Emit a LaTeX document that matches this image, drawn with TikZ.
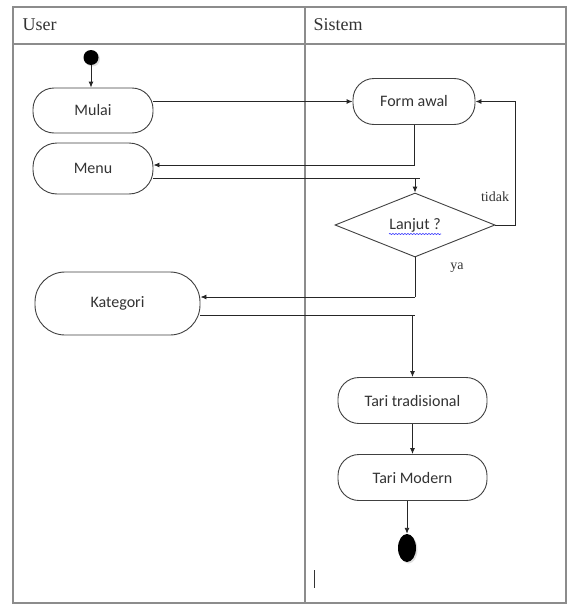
\documentclass[tikz,border=0pt]{standalone}
\usepackage{fontspec}
\setmainfont{Liberation Serif}
\newfontfamily\calibri{Carlito}
\usetikzlibrary{calc}
\usetikzlibrary{shapes.geometric,arrows.meta,shadows,decorations.pathmorphing}

\tikzset{
  activity/.style={draw=black!75, line width=0.9pt, rounded corners=21pt, fill=white,
    text=black!80, font=\calibri\fontsize{16}{19}\selectfont, inner sep=2pt},
  lane/.style={draw=black!45, line width=1.4pt},
  flow/.style={draw=black!85, line width=0.9pt},
  note/.style={text=black!80, font=\fontsize{14}{16}\selectfont, inner sep=1pt},
}

\begin{document}
\begin{tikzpicture}[x=1pt, y=-1pt, >={Latex[length=6pt,width=5pt]}]
\useasboundingbox (0,0) rectangle (568,605);

% jalur (swimlane)
\draw [lane] (13,7) rectangle (566,603);
\draw [lane] (13,44) -- (566,44);
\draw [lane] (305,7) -- (305,603);
\node [anchor=west, text=black!80, font=\fontsize{18}{20}\selectfont] (user) at (19,25) {User};
\node [anchor=west, text=black!80, font=\fontsize{18}{20}\selectfont] (sistem) at (310,25) {Sistem};

\node [circle, fill=black, minimum size=15pt, inner sep=0pt,
  drop shadow={shadow xshift=1.5pt, shadow yshift=-1.5pt, fill=black!25}] (start) at (91,57.5) {};

\foreach \n/\x/\y/\w/\h/\rad/\txt in {mulai/93/110.5/120/45/21/Mulai,
    menu/93/168.5/120/51/24/Menu, kategori/117.5/303.5/165/63/30/Kategori}
  \node [activity, minimum width=\w, minimum height=\h, rounded corners=\rad] (\n) at (\x,\y) {\txt};

\foreach \n/\x/\y/\w/\txt in {formawal/414/101.5/122/Form awal,
    taritrad/412.5/400.5/149/Tari tradisional, tarimod/412.5/477.5/149/Tari Modern}
  \node [activity, minimum width=\w, minimum height=46] (\n) at (\x,\y) {\txt};

\node [diamond, draw=black!75, line width=0.9pt, aspect=2.5, minimum width=160, minimum height=64,
  inner sep=1pt, text=black!80, font=\calibri\fontsize{16}{19}\selectfont] (lanjut) at (415,225) {Lanjut ?};
\draw [blue!80, line width=0.6pt, decorate, decoration={snake, amplitude=0.6pt, segment length=3pt}]
  ($(lanjut.center)+(-26,9)$) -- ($(lanjut.center)+(26,9)$);

\node [ellipse, fill=black, minimum width=18, minimum height=28, inner sep=0pt,
  drop shadow={shadow xshift=1.5pt, shadow yshift=-1.5pt, fill=black!25}] (akhir) at (407,548) {};

% titik belok
\coordinate (j1) at (415,165);
\coordinate (j2) at (420,178);
\coordinate (j3) at (415,297);
\coordinate (j4) at (415,315);

\draw [flow,->] (start) -- (start |- mulai.north);
\draw [flow,->] (mulai.east |- formawal.west) -- (formawal.west);
\draw [flow] (formawal.south) -- (formawal.south |- j1);
\draw [flow,->] (j1) -- (menu.east |- j1);
\draw [flow] (menu.east |- j2) -- (j2);
\draw [flow,->] (lanjut.north |- j2) -- (lanjut.north);
\draw [flow,->] (lanjut.east) -- ++(20,0) |- (formawal.east);
\node [note] (tidak) at (495,197) {tidak};
\draw [flow] (lanjut.south) -- (lanjut.south |- j3);
\draw [flow,->] (j3) -- (kategori.east |- j3);
\node [note] (ya) at (457,268) {ya};
\draw [flow] (kategori.east |- j4) -- (j4);
\draw [flow,->] (taritrad.north |- j4) -- (taritrad.north);
\draw [flow,->] (taritrad) -- (tarimod);
\draw [flow,->] (tarimod.south -| akhir) -- (akhir);

\draw [black!80, line width=0.8pt] (314,570) -- (314,588);

\end{tikzpicture}
\end{document}
